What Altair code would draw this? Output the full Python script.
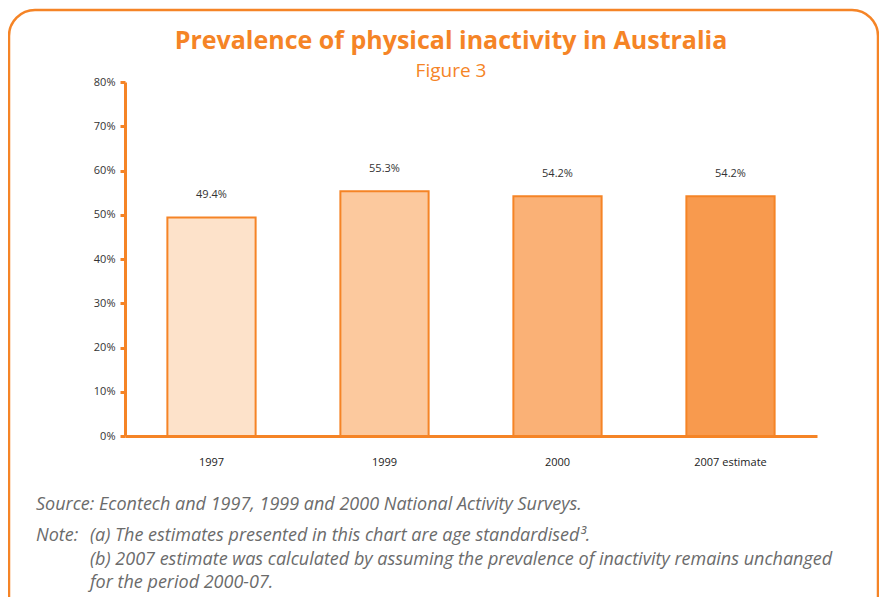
import altair as alt
import pandas as pd

categories = ["1997", "1999", "2000", "2007 estimate"]
values = [49.4, 55.3, 54.2, 54.2]
labels = ["49.4%", "55.3%", "54.2%", "54.2%"]
fills = ["#FDE2CA", "#FCC99E", "#FAB176", "#F89A4E"]
y_ticks = [0, 10, 20, 30, 40, 50, 60, 70, 80]

title_text = "Prevalence of physical inactivity in Australia"
subtitle_text = "Figure 3"
notes = [
    "Source: Econtech and 1997, 1999 and 2000 National Activity Surveys.",
    "Note:",
    "(a) The estimates presented in this chart are age standardised\u00b3.",
    "(b) 2007 estimate was calculated by assuming the prevalence of inactivity remains unchanged",
    "for the period 2000-07.",
]

ORANGE = "#F58426"
df = pd.DataFrame({"cat": categories, "val": values, "lab": labels, "fill": fills})
one = pd.DataFrame({"k": [0]})

W, H = 692, 354
PL, PT = 117, 74

x = alt.X("cat:N", sort=categories,
          scale=alt.Scale(paddingInner=0.49, paddingOuter=0.245),
          axis=alt.Axis(title=None, labelAngle=0, domainColor=ORANGE, domainWidth=3,
                        ticks=False, labelPadding=20, labelFontSize=11,
                        labelColor="#222222", labelFont="Open Sans"))
y = alt.Y("val:Q", scale=alt.Scale(domain=[0, 80], nice=False),
          axis=alt.Axis(title=None, values=y_ticks, grid=False,
                        labelExpr="datum.value + '%'",
                        domainColor=ORANGE, domainWidth=3, tickColor=ORANGE,
                        tickWidth=3, tickSize=5, labelFontSize=11, labelPadding=5,
                        labelColor="#333333", labelFont="Open Sans"))

bars = alt.Chart(df).mark_bar(stroke=ORANGE, strokeWidth=2).encode(
    x=x, y=y, fill=alt.Fill("fill:N", scale=None))

vals = alt.Chart(df).mark_text(dy=-22, fontSize=11, color="#333333",
                               font="Open Sans").encode(
    x=alt.X("cat:N", sort=categories), y="val:Q", text="lab:N")

def px(v):
    return v - (8 + PL)

def py(v):
    return v - (8 + PT)

border = alt.Chart(one).mark_rect(fillOpacity=0, stroke=ORANGE, strokeWidth=2.5,
                                  cornerRadius=26).encode(
    x=alt.value(px(9)), x2=alt.value(px(878)),
    y=alt.value(py(10)), y2=alt.value(py(640)))

title = alt.Chart(one).mark_text(text=title_text, font="Open Sans", fontWeight="bold",
                                 fontSize=25, color=ORANGE, align="center",
                                 baseline="alphabetic").encode(
    x=alt.value(px(451)), y=alt.value(py(49)))
subtitle = alt.Chart(one).mark_text(text=subtitle_text, font="Open Sans",
                                    fontSize=19, color=ORANGE, align="center",
                                    baseline="alphabetic").encode(
    x=alt.value(px(451)), y=alt.value(py(77)))

note_pos = [(36, 510), (36, 541), (90, 541), (90, 565), (90, 588)]
note_layers = []
for t, (nx, ny) in zip(notes, note_pos):
    note_layers.append(
        alt.Chart(one).mark_text(text=t, font="Open Sans", fontStyle="italic",
                                 fontSize=18, color="#6b6b6b", align="left",
                                 baseline="alphabetic").encode(
            x=alt.value(px(nx)), y=alt.value(py(ny))))

chart = alt.layer(border, bars, vals, title, subtitle, *note_layers).properties(
    width=W, height=H,
    autosize=alt.AutoSizeParams(type="none"),
    padding={"left": PL, "top": PT, "right": 871 - PL - W, "bottom": 589 - PT - H},
).configure_view(stroke=None)

chart.save("out.html", embed_options={"renderer": "svg", "actions": False})
